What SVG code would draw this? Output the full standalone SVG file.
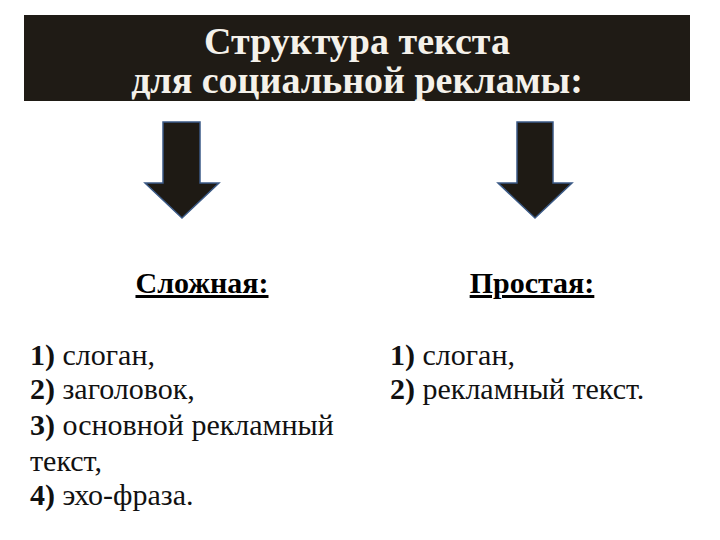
<svg xmlns="http://www.w3.org/2000/svg" width="720" height="540" viewBox="0 0 720 540">
<style>
.title{font-family:"Liberation Serif","Times New Roman",serif;font-weight:bold;font-size:38px;fill:#f4f1ea;text-anchor:middle}
.head{font-family:"Liberation Serif","Times New Roman",serif;font-weight:bold;font-size:30px;fill:#000;text-anchor:middle;text-decoration:underline}
.item{font-family:"Liberation Serif","Times New Roman",serif;font-size:30px;fill:#111}
.num{font-weight:bold}
.arrow{fill:#1e1a14;stroke:#3b5a86;stroke-width:1.5}
</style>
<rect width="720" height="540" fill="#fff"/>
<g id="header">
<rect x="24" y="15" width="666" height="86" fill="#1f1b15"/>
<text class="title" x="357" y="54">Структура текста</text>
<text class="title" x="357" y="93">для социальной рекламы:</text>
</g>
<g id="connectors">
<path class="arrow" d="M163,122 H200 V183 H219 L182,218 L145,183 H163 Z"/>
<path class="arrow" d="M517,122 H553 V183 H572 L535,218 L498,183 H517 Z"/>
</g>
<g id="complex">
<text class="head" x="202" y="293">Сложная:</text>
<text class="item" x="30" y="365"><tspan class="num">1)</tspan> слоган,</text>
<text class="item" x="30" y="399"><tspan class="num">2)</tspan> заголовок,</text>
<text class="item" x="30" y="435"><tspan class="num">3)</tspan> основной рекламный</text>
<text class="item" x="30" y="471">текст,</text>
<text class="item" x="30" y="505"><tspan class="num">4)</tspan> эхо-фраза.</text>
</g>
<g id="simple">
<text class="head" x="532" y="293">Простая:</text>
<text class="item" x="390" y="365"><tspan class="num">1)</tspan> слоган,</text>
<text class="item" x="390" y="399"><tspan class="num">2)</tspan> рекламный текст.</text>
</g>
</svg>
